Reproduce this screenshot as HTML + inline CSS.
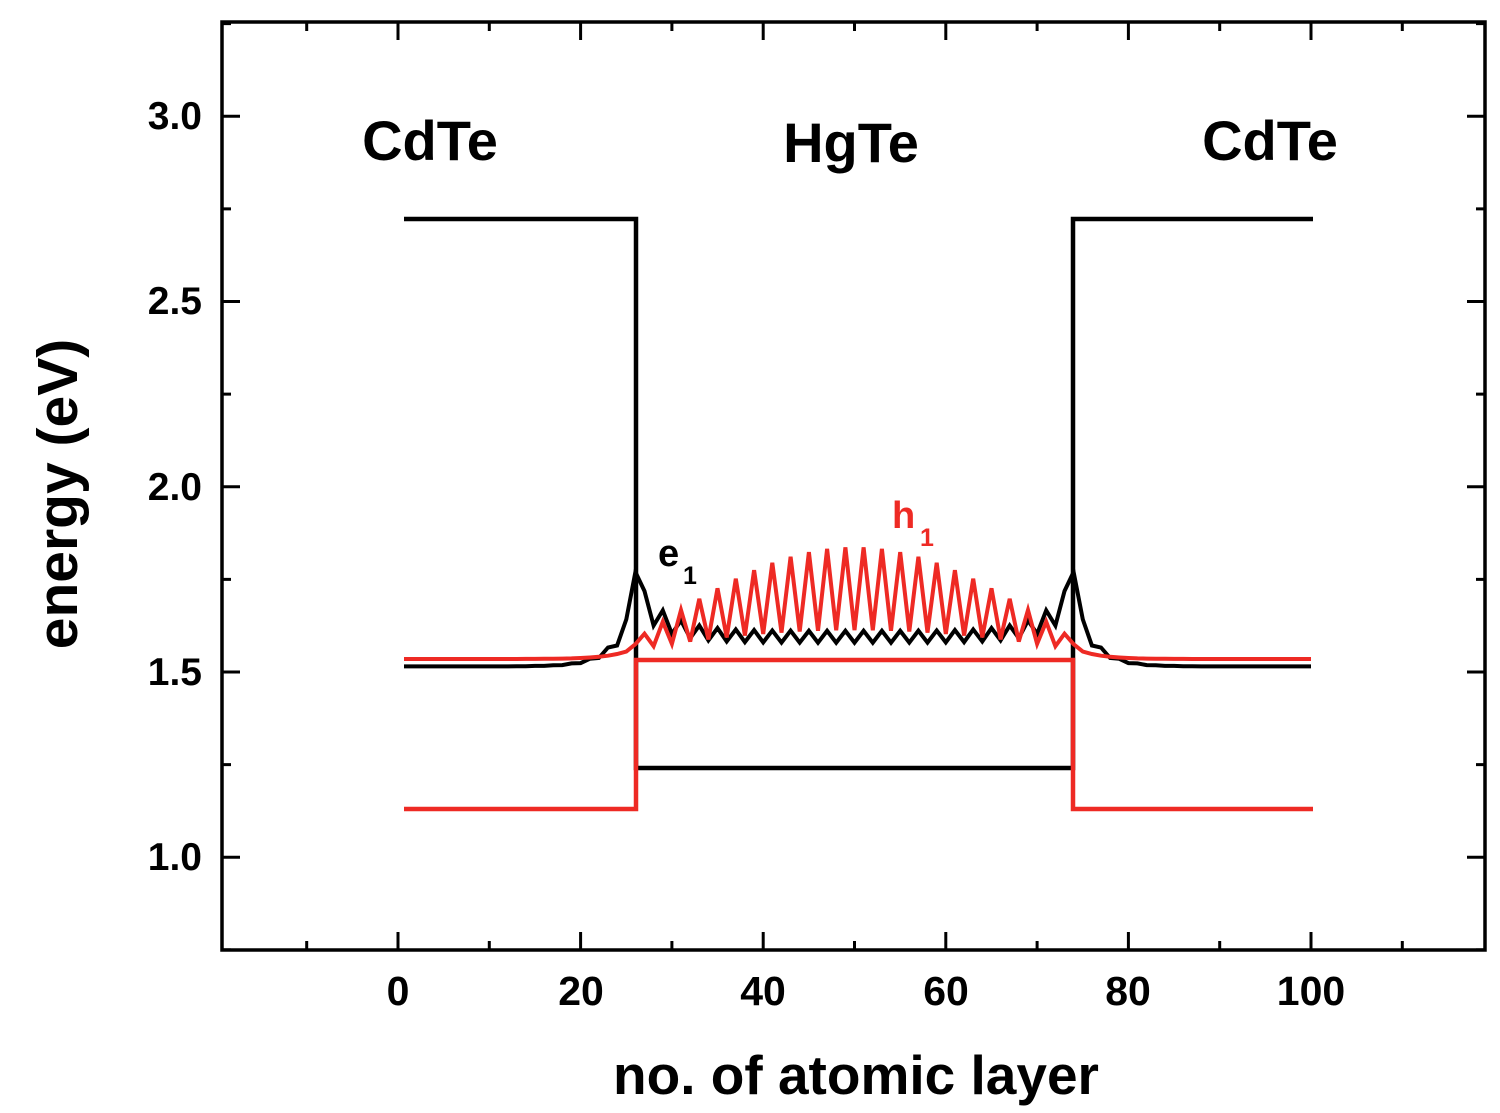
<!DOCTYPE html>
<html><head><meta charset="utf-8"><style>
body{margin:0;background:#fff}
svg{display:block;font-family:"Liberation Sans",Arial,sans-serif;font-weight:bold}
</style></head><body>
<svg id="s" width="1500" height="1113" viewBox="0 0 1500 1113">
<rect x="222" y="22" width="1263" height="928" fill="none" stroke="#000" stroke-width="3.5"/>
<g id="ticks" stroke="#000" stroke-width="3"></g>
<g font-size="39" text-anchor="end">
<text x="202" y="129">3.0</text><text x="202" y="314">2.5</text><text x="202" y="500">2.0</text>
<text x="202" y="685">1.5</text><text x="202" y="870">1.0</text></g>
<g font-size="41" text-anchor="middle">
<text x="398" y="1005">0</text><text x="581" y="1005">20</text><text x="763" y="1005">40</text>
<text x="946" y="1005">60</text><text x="1128" y="1005">80</text><text x="1311" y="1005">100</text></g>
<text x="856" y="1094" font-size="55" text-anchor="middle">no. of atomic layer</text>
<text transform="translate(77,494) rotate(-90)" font-size="57" text-anchor="middle">energy (eV)</text>
<g font-size="56" text-anchor="middle">
<text x="430" y="160">CdTe</text><text x="851" y="162">HgTe</text><text x="1270" y="160">CdTe</text></g>
<text x="658" y="566" font-size="38">e</text><text x="683" y="584" font-size="25">1</text>
<text x="892" y="528" font-size="38" fill="#ee2a24">h</text><text x="920" y="546" font-size="25" fill="#ee2a24">1</text>
<polyline points="404,219 636,219 636,768 1073,768 1073,219 1313,219" fill="none" stroke="#000" stroke-width="4.5"/>
<polyline points="404,809 636,809 636,660 1073,660 1073,809 1313,809" fill="none" stroke="#ee2a24" stroke-width="4.5"/>
<polyline id="blk" fill="none" stroke="#000" stroke-width="4"/>
<polyline id="red" fill="none" stroke="#ee2a24" stroke-width="4"/>
</svg>
<script>
const X=i=>398+9.13*i, Y=e=>672-(e-1.5)*370.5;
let t='';
for(let v=-10;v<=110;v+=10){const x=X(v),L=v%20==0?18:9;t+=`<line x1="${x}" y1="950" x2="${x}" y2="${950-L}"/><line x1="${x}" y1="22" x2="${x}" y2="${22+L}"/>`;}
for(let e=0.75;e<=3.26;e+=0.25){const y=Y(e),L=Math.abs(e*2-Math.round(e*2))<0.01?18:9;t+=`<line x1="222" y1="${y}" x2="${222+L}" y2="${y}"/><line x1="1485" y1="${y}" x2="${1485-L}" y2="${y}"/>`;}
document.getElementById('ticks').innerHTML=t;
let b=[],r=[];
for(let i=0.66;i<=100.2;i+=0){
 const k=Math.round(i);
 let eb,er;
 const d=Math.min(Math.abs(k-26),Math.abs(k-74));
 const inside=k>26&&k<74;
 const par=(k%2)?1:-1;
 if(k==26||k==74){eb=1.77;}
 else if(inside){eb=1.595+0.016*par+0.15*Math.exp(-d/3)*(par>0?1:0.6);}
 else {eb=1.515+0.2*Math.exp(-d/2.2)*(par>0?1:0.7);}
 if(inside){const env=Math.sin(Math.PI*(k-26)/48);er=1.575+(par>0?0.25*env:0.05*env)+0.012*par;}
 else if(k==26||k==74){er=1.575}
 else{er=1.535+0.03*Math.exp(-d/2.5);}
 b.push(X(i).toFixed(1)+','+Y(eb).toFixed(1));r.push(X(i).toFixed(1)+','+Y(er).toFixed(1));
 i=(i<1)?1:(i>=100?100.21:i+1);
}
document.getElementById('blk').setAttribute('points',b.join(' '));
document.getElementById('red').setAttribute('points',r.join(' '));
</script>
</body></html>
